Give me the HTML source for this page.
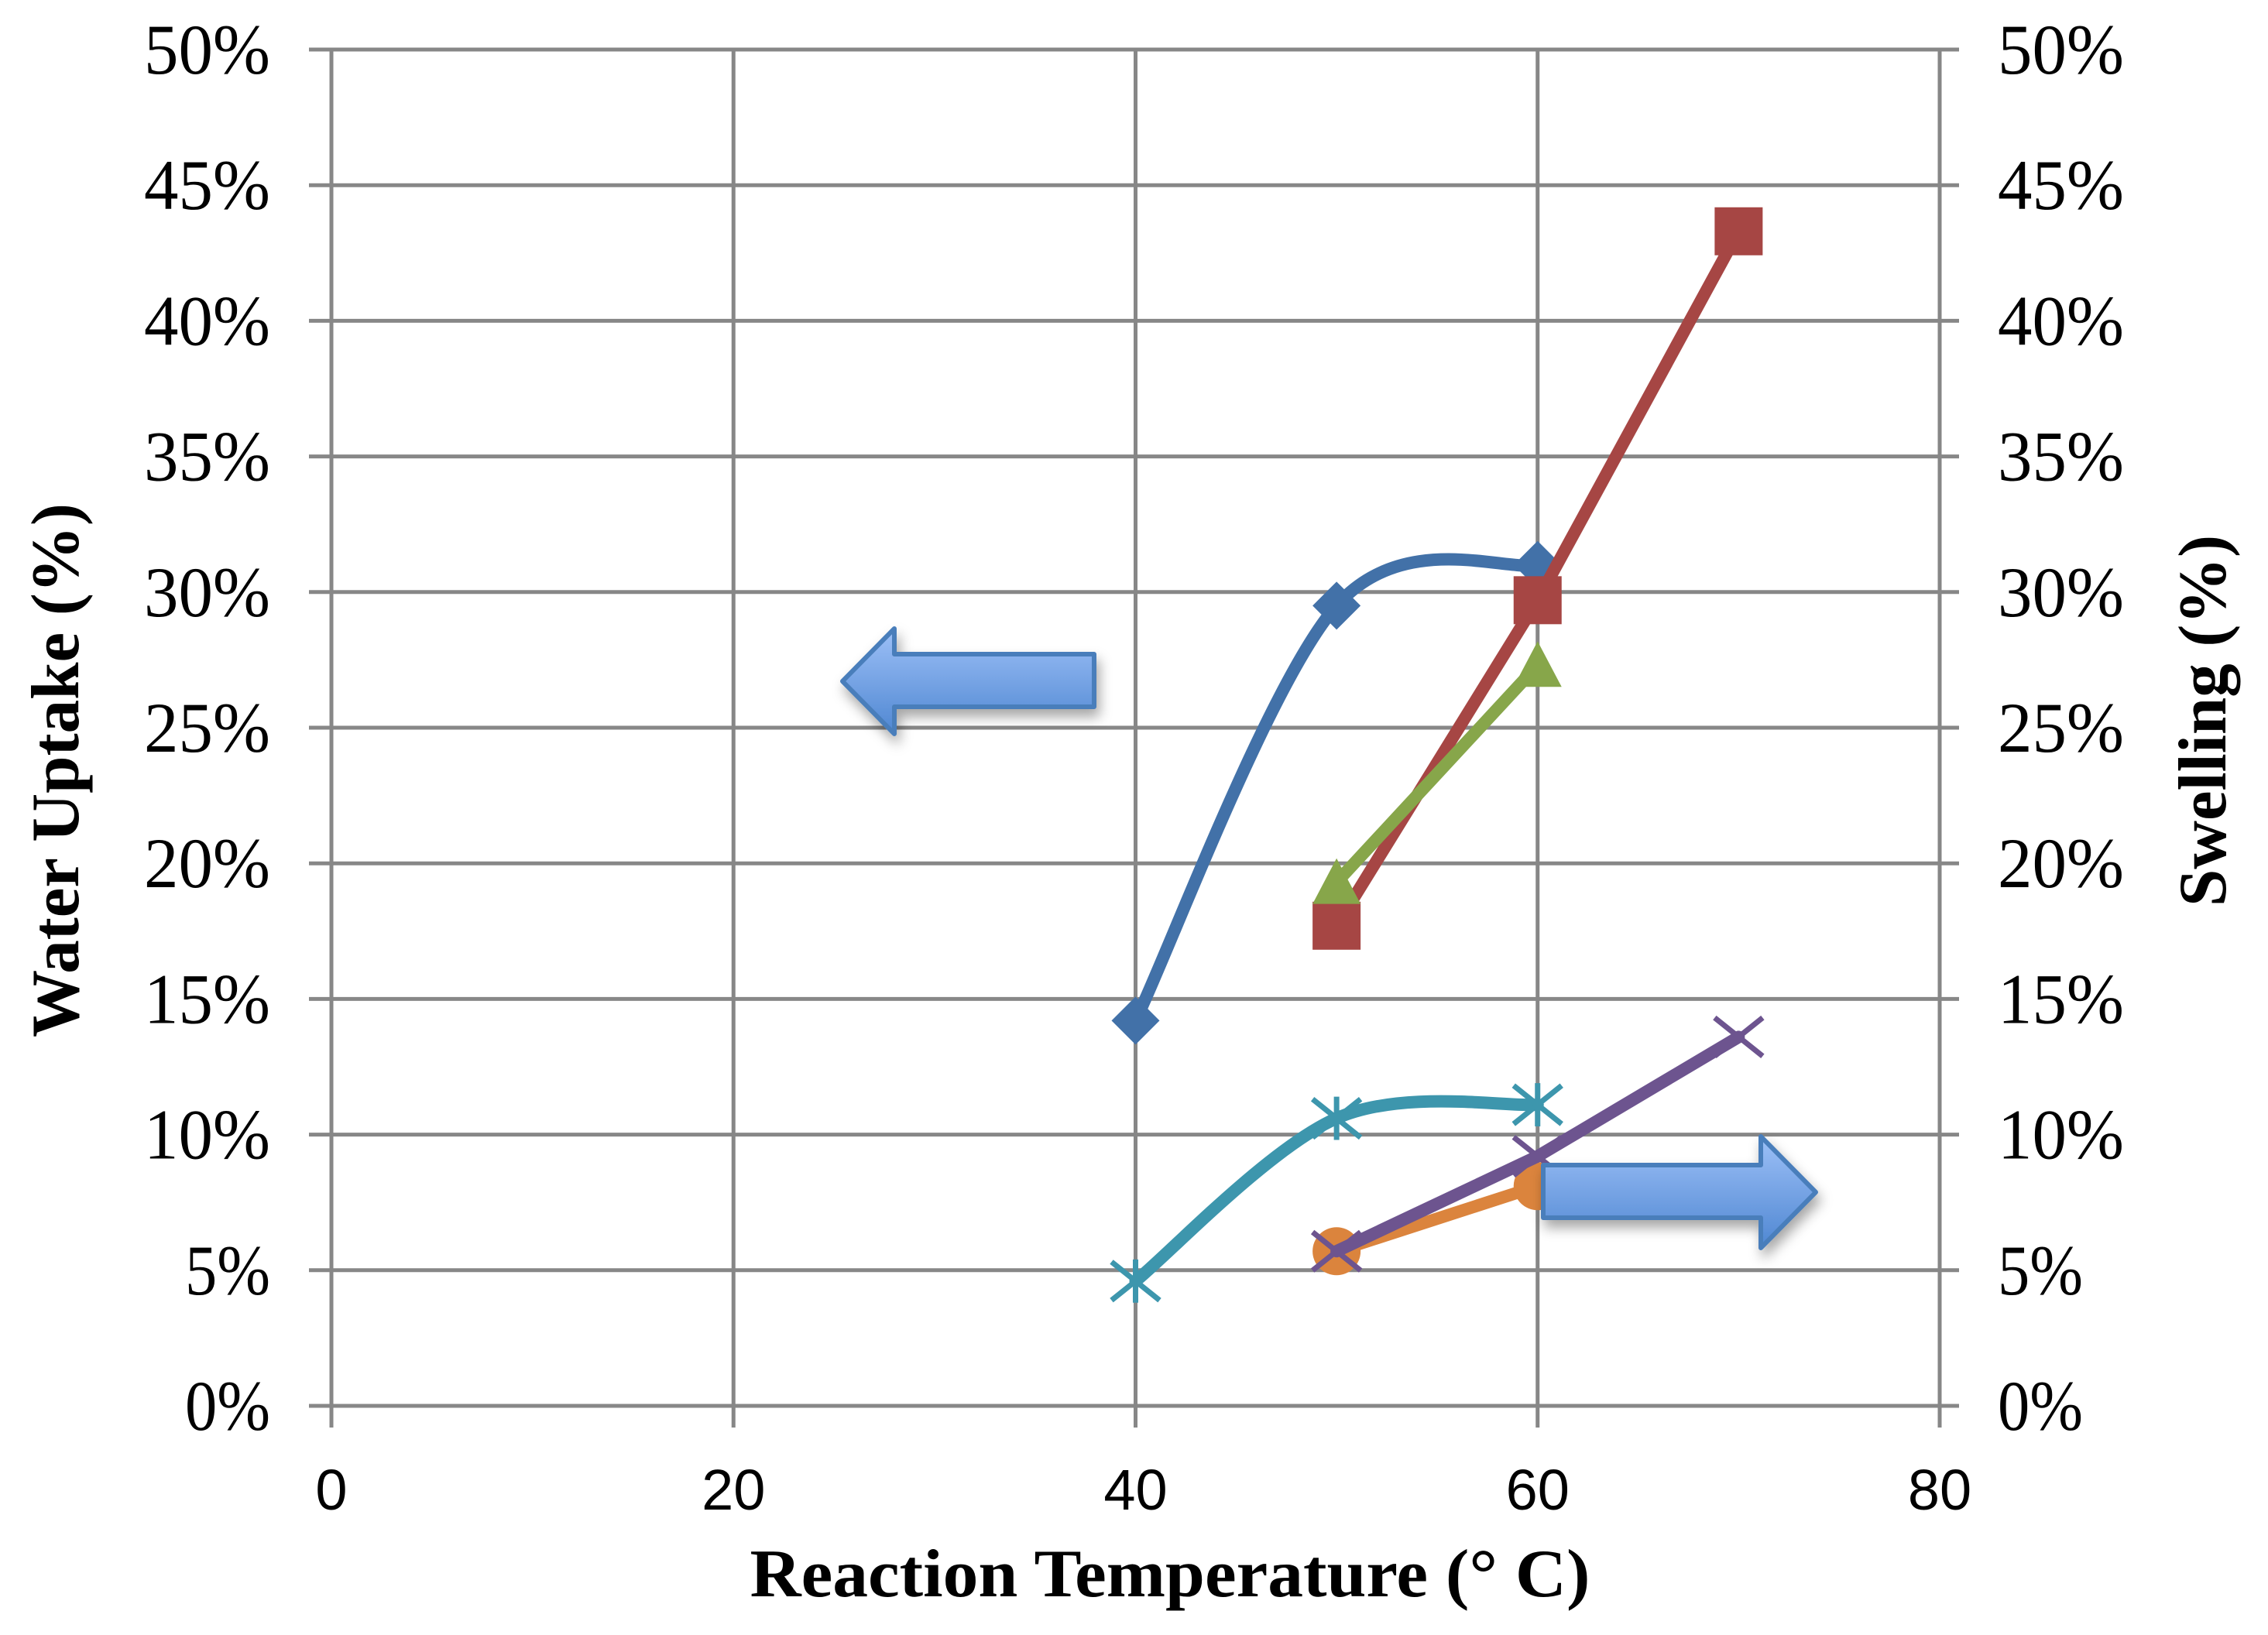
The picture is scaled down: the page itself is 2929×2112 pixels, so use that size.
<!DOCTYPE html>
<html><head><meta charset="utf-8"><style>
html,body{margin:0;padding:0;background:#fff;}
svg{display:block;}
.yl{font-family:"Liberation Serif",serif;font-size:92px;fill:#000;}
.xl{font-family:"Liberation Sans",sans-serif;font-size:74px;fill:#000;}
.tt{font-family:"Liberation Serif",serif;font-size:88px;font-weight:bold;fill:#000;}
</style></head><body>
<svg id="chart" width="2929" height="2112" viewBox="0 0 2929 2112" xmlns="http://www.w3.org/2000/svg">
<defs>
<linearGradient id="ag" x1="0" y1="0" x2="0" y2="1">
<stop offset="0" stop-color="#9dc0f7"/><stop offset="1" stop-color="#4f87d2"/>
</linearGradient>
<filter id="sh" x="-20%" y="-30%" width="140%" height="170%"><feDropShadow dx="4" dy="10" stdDeviation="8" flood-color="#000" flood-opacity="0.35"/></filter>
</defs>
<g id="grid"></g>
<g id="axes"></g>
<g id="series"></g>
<g filter="url(#sh)">
<polygon points="1088,880 1155,812 1155,845 1413,845 1413,913 1155,913 1155,948" fill="url(#ag)" stroke="#4a7ebb" stroke-width="6" stroke-linejoin="round"/>
</g>
<g filter="url(#sh)">
<polygon points="2345,1540 2274,1468 2274,1505 1993,1505 1993,1573 2274,1573 2274,1612" fill="url(#ag)" stroke="#4a7ebb" stroke-width="6" stroke-linejoin="round"/>
</g>
<text class="tt" x="1511" y="2062" text-anchor="middle" textLength="1085" lengthAdjust="spacingAndGlyphs">Reaction Temperature (°  C)</text>
<text class="tt" transform="translate(101,995) rotate(-90)" text-anchor="middle" textLength="690" lengthAdjust="spacingAndGlyphs">Water Uptake (%)</text>
<text class="tt" transform="translate(2874,931) rotate(-90)" text-anchor="middle" textLength="480" lengthAdjust="spacingAndGlyphs">Swelling (%)</text>
</svg>
<script>
const xTicks=[0,20,40,60,80];
const yTicks=[0,5,10,15,20,25,30,35,40,45,50];
const xBlue=[40,50,60];const yBlue=[14.2,29.5,31.0];
const xRed=[50,60,70];const yRed=[17.7,29.7,43.3];
const xGreen=[50,60];const yGreen=[19.3,27.3];
const xTeal=[40,50,60];const yTeal=[4.6,10.6,11.1];
const xOrange=[50,60];const yOrange=[5.7,8.1];
const xPurple=[50,60,70];const yPurple=[5.7,9.2,13.6];

const L=428,R=2505,T=64,B=1816;
const sx=v=>L+(v-0)/80*(R-L);
const sy=v=>B-(v-0)/50*(B-T);
const NS="http://www.w3.org/2000/svg";
function mk(tag,attrs,parent){const e=document.createElementNS(NS,tag);for(const k in attrs)e.setAttribute(k,attrs[k]);parent.appendChild(e);return e;}
const grid=document.getElementById('grid'),axes=document.getElementById('axes'),ser=document.getElementById('series');
const G='#878787';
yTicks.forEach(t=>{
  const y=sy(t);
  const l=mk('line',{x1:L-29,x2:R+25,y1:y,y2:y,stroke:G,'stroke-width':5},grid);
  
  
  const w=(t<10?110:163);
  const a=mk('text',{x:349,y:y+31,'text-anchor':'end',class:'yl',textLength:w,lengthAdjust:'spacingAndGlyphs'},axes);a.textContent=t+'%';
  
  
  const b=mk('text',{x:2580,y:y+31,'text-anchor':'start',class:'yl',textLength:w,lengthAdjust:'spacingAndGlyphs'},axes);b.textContent=t+'%';
  
  
});
xTicks.forEach(t=>{
  const x=sx(t);
  const l=mk('line',{x1:x,x2:x,y1:T,y2:B+28,stroke:G,'stroke-width':5},grid);
  
  
  const a=mk('text',{x:x,y:1950,'text-anchor':'middle',class:'xl'},axes);a.textContent=t;
  
  
});
function smooth(pts){
  let d='M'+pts[0][0]+','+pts[0][1];
  for(let i=0;i<pts.length-1;i++){
    const p0=pts[i-1]||pts[i],p1=pts[i],p2=pts[i+1],p3=pts[i+2]||p2;
    const t=0.5/3*2;
    const c1=[p1[0]+(p2[0]-p0[0])*t/2,p1[1]+(p2[1]-p0[1])*t/2];
    const c2=[p2[0]-(p3[0]-p1[0])*t/2,p2[1]-(p3[1]-p1[1])*t/2];
    d+=' C'+c1+' '+c2+' '+p2;
  }
  return d;
}
function series(xs,ys,color,isSmooth,marker,name){
  const g=mk('g',{},ser);
  
  
  const pts=xs.map((x,i)=>[sx(x),sy(ys[i])]);
  const d=isSmooth?smooth(pts):'M'+pts.map(p=>p.join(',')).join(' L');
  const p=mk('path',{d:d,fill:'none',stroke:color,'stroke-width':16,'stroke-linejoin':'round','stroke-linecap':'round'},g);
  
  
  pts.forEach(([x,y])=>{
    let m;const s=31;
    if(marker==='diamond')m=mk('polygon',{points:`${x},${y-s} ${x+s},${y} ${x},${y+s} ${x-s},${y}`,fill:color},g);
    else if(marker==='square')m=mk('rect',{x:x-s,y:y-s,width:2*s,height:2*s,fill:color},g);
    else if(marker==='triangle')m=mk('polygon',{points:`${x},${y-s} ${x+s},${y+s*0.9} ${x-s},${y+s*0.9}`,fill:color},g);
    else if(marker==='circle')m=mk('circle',{cx:x,cy:y,r:s,fill:color},g);
    else if(marker==='x')m=mk('path',{d:`M${x-s},${y-s*0.8}L${x+s},${y+s*0.8}M${x-s},${y+s*0.8}L${x+s},${y-s*0.8}`,stroke:color,'stroke-width':7,fill:'none'},g);
    else m=mk('path',{d:`M${x-s},${y-s*0.8}L${x+s},${y+s*0.8}M${x-s},${y+s*0.8}L${x+s},${y-s*0.8}M${x},${y-s*0.9}L${x},${y+s*0.9}`,stroke:color,'stroke-width':7,fill:'none'},g);
    
    
  });
}
series(xTeal,yTeal,'#3d96ad',true,'star','series-teal');
series(xOrange,yOrange,'#db843d',false,'circle','series-orange');
series(xPurple,yPurple,'#6d548f',false,'x','series-purple');
series(xBlue,yBlue,'#4271a8',true,'diamond','series-blue');
series(xRed,yRed,'#a64644',false,'square','series-red');
series(xGreen,yGreen,'#87a64a',false,'triangle','series-green');
</script>
</body></html>
